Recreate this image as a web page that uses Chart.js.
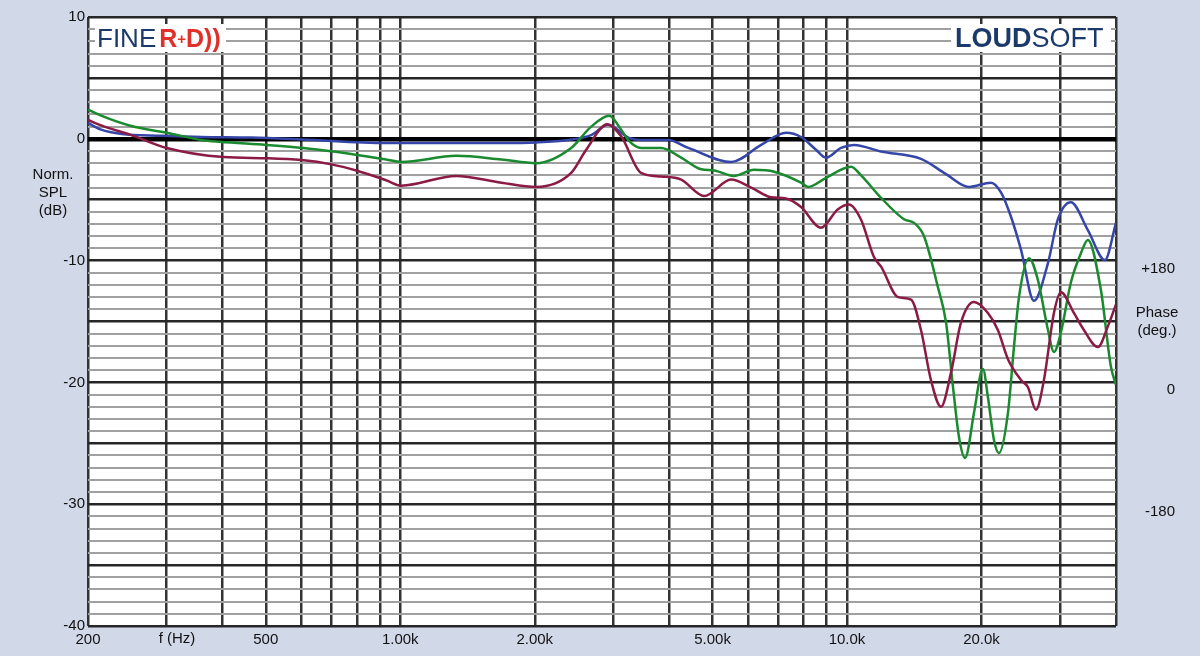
<!DOCTYPE html>
<html>
<head>
<meta charset="utf-8">
<script src="https://cdn.jsdelivr.net/npm/chart.js@4.4.1/dist/chart.umd.min.js"></script>
<style>
  html, body { margin: 0; padding: 0; background: #d1d8e8; }
  canvas { display: block; }
</style>
</head>
<body>
<canvas id="splChart" width="1200" height="656"></canvas>
<script>
// frequency (Hz) / normalised SPL (dB)
const blueFreq = [200, 214, 238, 292, 359, 464, 601, 930, 1334, 1683, 2015, 2376, 2675, 2920, 3238, 3460, 3977, 4414, 5502, 6424, 7303, 7890, 8522, 8974, 9696, 10370, 11920, 14640, 16660, 18750, 20990, 22110, 23280, 24510, 26200, 28170, 29650, 31700, 34600, 37770, 40000];
const blueDb   = [1.3, 0.75, 0.4, 0.25, 0.15, 0.1, -0.05, -0.35, -0.35, -0.35, -0.3, -0.1, 0.3, 1.15, 0.1, -0.1, -0.1, -0.75, -1.9, -0.5, 0.5, 0.15, -0.9, -1.55, -0.75, -0.5, -1.05, -1.65, -2.9, -3.95, -3.6, -4.4, -6.4, -9.1, -13.3, -10.2, -6.6, -5.2, -7.5, -9.95, -6.9];

const greenFreq = [200, 214, 250, 300, 359, 394, 501, 607, 708, 930, 1005, 1334, 1683, 2015, 2413, 2675, 2935, 3122, 3238, 3460, 3836, 4253, 4714, 5040, 5584, 6190, 6872, 7890, 8180, 8974, 10210, 10750, 11920, 13410, 14120, 14870, 15980, 16660, 17270, 17810, 18370, 19240, 19940, 20150, 20670, 21320, 21880, 22920, 23640, 24260, 25540, 26750, 28170, 29050, 30110, 31700, 33380, 34600, 37000, 38960, 40000];
const greenDb   = [2.4, 1.9, 1.05, 0.5, -0.1, -0.25, -0.5, -0.75, -1.05, -1.7, -1.9, -1.4, -1.7, -2.0, -0.75, 1.0, 1.9, 0.75, -0.1, -0.75, -0.75, -1.55, -2.5, -2.6, -3.05, -2.55, -2.7, -3.6, -3.95, -3.2, -2.3, -3.0, -4.85, -6.6, -6.9, -8.0, -12.2, -15.1, -20.4, -24.5, -26.2, -22.5, -19.2, -18.9, -21.2, -24.7, -25.8, -22.5, -17.1, -13.0, -9.8, -11.6, -15.7, -17.5, -15.9, -11.8, -9.4, -8.3, -12.4, -18.7, -20.2];

const redFreq = [200, 214, 250, 300, 402, 506, 601, 701, 797, 930, 1005, 1334, 1683, 2015, 2413, 2607, 2905, 3122, 3460, 3836, 4253, 4787, 5502, 6100, 6761, 7303, 7890, 8746, 9530, 10100, 10750, 11490, 11920, 13010, 13910, 14640, 15410, 16230, 17090, 17990, 19240, 20670, 21760, 22920, 24510, 25410, 26480, 27590, 29050, 30110, 32200, 33900, 36430, 38360, 40000];
const redDb   = [1.55, 1.1, 0.3, -0.75, -1.5, -1.6, -1.75, -2.1, -2.6, -3.4, -3.85, -3.05, -3.6, -3.95, -2.8, -0.9, 1.2, 0.2, -2.8, -3.1, -3.35, -4.7, -3.35, -4.0, -4.8, -4.9, -5.6, -7.3, -5.8, -5.4, -6.65, -9.7, -10.5, -13.0, -13.2, -15.7, -19.8, -22.0, -19.2, -15.1, -13.4, -14.3, -15.7, -18.1, -19.8, -20.4, -22.25, -19.8, -14.3, -12.6, -14.3, -15.7, -17.1, -15.4, -13.6];

const freqGrid = [200, 300, 400, 500, 600, 700, 800, 900, 1000, 2000, 3000, 4000, 5000, 6000, 7000, 8000, 9000, 10000, 20000, 30000, 40000];
const freqLabels = { 200: '200', 500: '500', 1000: '1.00k', 2000: '2.00k', 5000: '5.00k', 10000: '10.0k', 20000: '20.0k' };
const dbGrid = [];
for (let v = -40; v <= 10; v++) dbGrid.push(v);
const phaseTicks = [-180, 0, 180];

const FONT = "'Liberation Sans', Arial, sans-serif";
const BG = '#d1d8e8';
const NAVY = '#1b3a6b';

const pts = (f, d) => f.map((v, i) => ({ x: v, y: d[i] }));

// keep label overflow from shifting the plot area
const noPad = s => { s.paddingTop = 0; s.paddingBottom = 0; s.paddingLeft = 0; s.paddingRight = 0; };

const decor = {
  id: 'decor',
  beforeDraw(chart) {
    const { ctx, chartArea: a } = chart;
    ctx.save();
    ctx.fillStyle = BG;
    ctx.fillRect(0, 0, chart.width, chart.height);
    ctx.fillStyle = '#ffffff';
    ctx.fillRect(a.left, a.top, a.right - a.left, a.bottom - a.top);
    ctx.restore();
  },
  beforeDatasetsDraw(chart) {
    const { ctx, chartArea: a } = chart;
    ctx.save();
    // logo patches
    ctx.fillStyle = '#ffffff';
    ctx.fillRect(95, a.top + 7, 131, 28);
    ctx.fillRect(951, a.top + 7, 160, 28);
    ctx.textBaseline = 'alphabetic';
    ctx.textAlign = 'left';
    const base = a.top + 30;
    let x = 97;
    ctx.fillStyle = NAVY;
    ctx.font = '26px ' + FONT;
    ctx.fillText('FINE', x, base);
    x += ctx.measureText('FINE').width + 3;
    ctx.fillStyle = '#e0302a';
    ctx.font = 'bold 25px ' + FONT;
    ctx.fillText('R', x, base);
    x += ctx.measureText('R').width;
    ctx.font = 'bold 15px ' + FONT;
    ctx.fillText('+', x, base - 3);
    x += ctx.measureText('+').width;
    ctx.font = 'bold 25px ' + FONT;
    ctx.fillText('D))', x, base);

    x = 955;
    ctx.fillStyle = NAVY;
    ctx.font = 'bold 27px ' + FONT;
    ctx.fillText('LOUD', x, base);
    x += ctx.measureText('LOUD').width;
    ctx.font = '27px ' + FONT;
    ctx.fillText('SOFT', x, base);
    ctx.restore();
  },
  afterDraw(chart) {
    const { ctx } = chart;
    ctx.save();
    ctx.fillStyle = '#111';
    ctx.font = '15px ' + FONT;
    ctx.textAlign = 'center';
    ctx.textBaseline = 'middle';
    ctx.fillText('Norm.', 53, 175);
    ctx.fillText('SPL', 53, 193);
    ctx.fillText('(dB)', 53, 211);
    ctx.fillText('Phase', 1157, 313);
    ctx.fillText('(deg.)', 1157, 331);
    ctx.fillText('f (Hz)', 177, 639);
    ctx.restore();
  }
};

const line = (data, color) => ({
  data,
  borderColor: color,
  borderWidth: 2.5,
  pointRadius: 0,
  fill: false,
  cubicInterpolationMode: 'monotone'
});

new Chart(document.getElementById('splChart'), {
  type: 'line',
  data: {
    datasets: [
      line(pts(redFreq, redDb), '#8b1a45'),
      line(pts(greenFreq, greenDb), '#1a8a2e'),
      line(pts(blueFreq, blueDb), '#3546a8')
    ]
  },
  options: {
    responsive: false,
    animation: false,
    layout: { padding: { top: 17, left: 0, right: 25, bottom: 0 } },
    plugins: { legend: { display: false }, tooltip: { enabled: false } },
    scales: {
      x: {
        type: 'logarithmic',
        min: 200,
        max: 40000,
        afterBuildTicks: s => { s.ticks = freqGrid.map(v => ({ value: v })); },
        afterFit: s => { s.height = 30; noPad(s); },
        border: { display: false },
        grid: { color: '#333333', lineWidth: 2.5, drawTicks: false },
        ticks: {
          autoSkip: false,
          maxRotation: 0,
          padding: 5,
          color: '#111',
          font: { family: FONT, size: 15 },
          callback: v => freqLabels[v] || ''
        }
      },
      y: {
        type: 'linear',
        position: 'left',
        min: -40,
        max: 10,
        afterBuildTicks: s => { s.ticks = dbGrid.map(v => ({ value: v })); },
        afterFit: s => { s.width = 88; noPad(s); },
        border: { display: false },
        grid: {
          drawTicks: false,
          color: c => c.tick.value === 0 ? '#000000' : (c.tick.value % 5 === 0 ? '#262626' : '#a0a0a0'),
          lineWidth: c => c.tick.value === 0 ? 4.5 : (c.tick.value % 5 === 0 ? 2.5 : 2)
        },
        ticks: {
          autoSkip: false,
          padding: 3,
          color: '#111',
          font: { family: FONT, size: 15 },
          callback: v => v % 10 === 0 ? String(v) : ''
        }
      },
      y1: {
        type: 'linear',
        position: 'right',
        min: -349.6,
        max: 552.6,
        afterBuildTicks: s => { s.ticks = phaseTicks.map(v => ({ value: v })); },
        afterFit: s => { s.width = 59; noPad(s); },
        border: { display: false },
        grid: { display: false, drawTicks: false },
        ticks: {
          autoSkip: false,
          crossAlign: 'far',
          padding: 4,
          color: '#111',
          font: { family: FONT, size: 15 },
          callback: v => v > 0 ? '+' + v : String(v)
        }
      }
    }
  },
  plugins: [decor]
});
</script>
</body>
</html>
